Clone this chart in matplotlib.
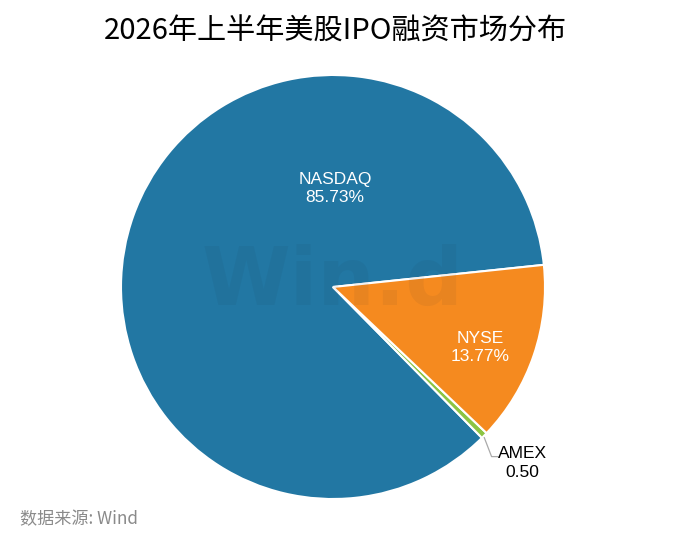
import matplotlib
matplotlib.use("Agg")
import matplotlib.pyplot as plt
import numpy as np

plt.rcParams["font.family"] = ["Noto Sans CJK SC", "DejaVu Sans"]

# 数据
markets = ["NASDAQ", "AMEX", "NYSE"]
shares = [85.73, 0.50, 13.77]
colors = ["#2277a3", "#8cc443", "#f58a1f"]

fig = plt.figure(figsize=(7.0, 5.42), dpi=100)

# Kreis: Mittelpunkt (333, 287) px, Radius 212 px
cx, cy, r = 333, 287, 212
W, H = 700, 542
ax = fig.add_axes([(cx - r) / W, (H - cy - r) / H, 2 * r / W, 2 * r / H])

wedges, _ = ax.pie(
    shares, colors=colors, startangle=6, counterclock=True,
    wedgeprops=dict(edgecolor="white", linewidth=1.5),
    radius=1.0,
)
ax.set_xlim(-1.0, 1.0)
ax.set_ylim(-1.0, 1.0)
ax.set_aspect("equal")
ax.axis("off")

# Wasserzeichen
ax.text(0.0, 0.02, "Win.d", ha="center", va="center", fontsize=58,
        fontweight="bold", color="#1a2a3a", alpha=0.06,
        family="DejaVu Sans", zorder=5)

# Beschriftungen
lab = dict(fontsize=12.5, family="Liberation Sans", linespacing=1.3)
ax.text(0.01, 0.465, f"{markets[0]}\n{shares[0]:.2f}%", ha="center", va="center",
        color="white", **lab)
ax.text(0.695, -0.285, f"{markets[2]}\n{shares[2]:.2f}%", ha="center", va="center",
        color="white", **lab)

# AMEX mit Führungslinie
w = wedges[1]
mid = np.deg2rad((w.theta1 + w.theta2) / 2)
x0, y0 = np.cos(mid), np.sin(mid)
ax.plot([x0, 0.748, 0.778], [y0 - 0.01, -0.80, -0.80],
        color="#aaaaaa", linewidth=0.9, clip_on=False)
ax.text(0.895, -0.83, f"{markets[1]}\n{shares[1]:.2f}", ha="center", va="center",
        color="black", **lab)

fig.text(335 / W, 1 - 32 / H, "2026年上半年美股IPO融资市场分布", ha="center", va="center",
         fontsize=21, color="black")
fig.text(20 / W, 1 - 519 / H, "数据来源: Wind", ha="left", va="center",
         fontsize=12.3, color="#8a8a8a")

fig.savefig("out.png", dpi=100)
